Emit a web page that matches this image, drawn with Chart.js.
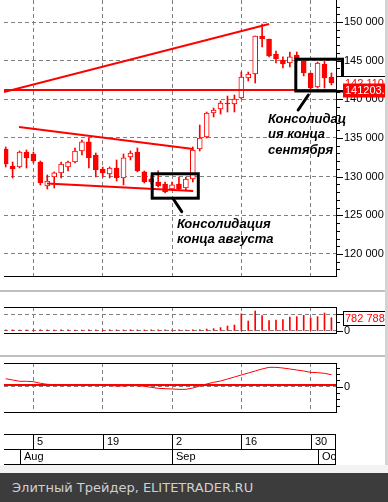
<!DOCTYPE html>
<html>
<head>
<meta charset="utf-8">
<script src="https://cdn.jsdelivr.net/npm/chart.js@4.4.1/dist/chart.umd.min.js"></script>
<style>
html, body { margin: 0; padding: 0; background: #fff; width: 388px; height: 502px; overflow: hidden; position: relative; }
canvas { position: absolute; left: 0; }
.strip { position: absolute; }
#footer { position: absolute; left: 0; top: 473px; width: 388px; height: 29px; box-sizing: border-box; padding-left: 12px;
  background: #3c3c3c; color: #d0d0d0; font: 13px "DejaVu Sans", sans-serif; line-height: 29px; }
</style>
</head>
<body>
<div class="strip" style="left:385px;top:0;width:3px;height:465px;background:#d4d4d4"></div>
<div class="strip" style="left:0;top:290px;width:385px;height:2px;background:#c0c0c0"></div>
<div class="strip" style="left:0;top:355px;width:385px;height:2px;background:#c0c0c0"></div>
<div class="strip" style="left:0;top:465px;width:388px;height:8px;background:#f2f2f2"></div>
<canvas id="main" width="388" height="280" style="top:0"></canvas>
<canvas id="vol" width="388" height="64" style="top:292px"></canvas>
<canvas id="osc" width="388" height="113" style="top:357px"></canvas>
<div id="footer">Элитный Трейдер, ELITETRADER.RU</div>
<script>
// trading days
const dates = ['2013-07-30','2013-07-31','2013-08-01','2013-08-02','2013-08-05','2013-08-06','2013-08-07','2013-08-08','2013-08-09',
  '2013-08-12','2013-08-13','2013-08-14','2013-08-15','2013-08-16','2013-08-19','2013-08-20','2013-08-21','2013-08-22','2013-08-23',
  '2013-08-26','2013-08-27','2013-08-28','2013-08-29','2013-08-30','2013-09-02','2013-09-03','2013-09-04','2013-09-05','2013-09-06',
  '2013-09-09','2013-09-10','2013-09-11','2013-09-12','2013-09-13','2013-09-16','2013-09-17','2013-09-18','2013-09-19','2013-09-20',
  '2013-09-23','2013-09-24','2013-09-25','2013-09-26','2013-09-27','2013-09-30','2013-10-01','2013-10-02','2013-10-03'];

const openP = [133580,131380,131250,133190,132930,131900,128800,129960,130480,131250,131900,133320,134490,132800,130990,130350,
  131120,129830,132550,133190,130610,129700,129310,129050,128410,129050,128540,129700,133580,135130,138230,138750,139530,139400,
  140170,142760,143280,148190,147800,145860,145090,144700,145730,144960,143410,141600,144570,142890];
const highP = [133840,131900,133320,133450,133190,132030,130220,130610,131900,132030,133710,134740,135000,133060,131250,131250,
  132160,132930,133320,133710,130740,130090,130740,129310,129310,129960,129960,133840,136680,138360,138880,139790,140430,140560,
  143530,143530,148190,149740,147800,146250,145480,146120,146120,145090,143410,144830,144960,143410];
const lowP = [131250,129830,131120,131120,131770,128930,128410,128540,129830,130740,131770,132800,131120,129960,129960,129830,
  129440,128930,132160,130610,129180,129050,128670,127890,128280,128280,128280,129310,133320,135000,137720,138100,138360,138360,
  140040,142370,142110,146770,145480,144700,144050,144180,144830,143020,141080,141470,141470,141860];
const closeP = [131640,130990,133190,132420,132030,129180,129440,130480,131640,131900,133320,134490,132420,130860,130480,131120,
  129830,132420,133060,130740,129310,129310,128800,128020,128930,128410,129700,133450,135000,138230,138620,139530,139400,140040,
  142890,143280,148190,147800,145600,145220,144570,145480,145220,143410,141470,144700,142760,142110];

const volume = [62000,71000,58000,66000,54000,69000,63000,57000,72000,65000,60000,58000,67000,61000,55000,70000,64000,59000,
  73000,66000,62000,71000,68000,75000,57000,64000,60000,69000,78000,118000,137000,196000,294000,353000,1010000,588000,1176000,
  902000,608000,647000,667000,824000,843000,922000,765000,843000,1059000,782788];

const oscValues = [1264,1058,853,853,790,537,379,320,280,260,250,260,280,250,220,180,120,120,180,160,60,-100,-260,-310,-360,
  -420,-420,-210,110,430,690,900,1216,1530,1850,2160,2480,2800,3060,3060,2950,2800,2640,2480,2270,2220,2110,1900];
const oscLevel = 270;

// trend lines: [day index, price]
const levelPrice = 141203;
const risingLine = [[-0.245, 140950], [38, 149742]];
const upperLine = [[1.92, 136424], [27.05, 133579]];
const supportLine = [[5.96, 129118], [27.05, 128148]];

// tick labels
const priceTicks = [120000, 125000, 130000, 135000, 140000, 145000, 150000];
const volumeTicks = [0, 500000, 1000000];
const oscTicks = [-3000, -2000, -1000, 0, 1000, 2000, 3000];
const dayTickDates = ['2013-08-05', '2013-08-19', '2013-09-02', '2013-09-16', '2013-09-30'];
const dayTickLabels = ['5', '19', '2', '16', '30'];
const monthStartDates = ['2013-08-01', '2013-09-02', '2013-10-01'];
const monthLabels = ['Aug', 'Sep', 'Oct'];

// annotations (day index / price)
const notes = [
  { box: [21.14, 27.79, 130373, 127218], pointer: [[24.19, 127114], [25.4, 125472]],
    at: [24.7, 123365], lines: ['Консолидация', 'конца августа'] },
  { box: [41.86, 48.6, 145190, 141079], pointer: [[43.67, 140562], [42.2, 138622]],
    at: [37.85, 136941], lines: ['Консолидац', 'ия конца', 'сентября'] }
];

Chart.defaults.font.family = '"Liberation Sans", Arial, sans-serif';
Chart.defaults.font.size = 11;
Chart.defaults.color = '#000';

const RED = '#ff0000';
const X_MIN = -0.245, X_MAX = 47.66;
const gridIdx = dayTickDates.map(d => dates.indexOf(d));
const monthIdx = monthStartDates.map(d => dates.indexOf(d));
const fmt = v => String(Math.round(v)).replace(/\B(?=(\d{3})+(?!\d))/g, ' ');
const pts = arr => arr.map(p => ({ x: p[0], y: p[1] }));

function xScale() {
  return {
    type: 'linear', min: X_MIN, max: X_MAX, offset: false, bounds: 'data',
    afterBuildTicks: s => { s.ticks = gridIdx.map(v => ({ value: v })); },
    ticks: { display: false },
    grid: { color: '#808080', drawTicks: false, offset: false },
    border: { display: false, dash: [4, 3] }
  };
}

function yScale(min, max, tickVals, labelFn, gridFn) {
  return {
    position: 'right', min: min, max: max, bounds: 'data',
    afterBuildTicks: s => { s.ticks = tickVals.map(v => ({ value: v })); },
    afterFit: s => { s.width = 52; s.paddingTop = 0; s.paddingBottom = 0; },
    ticks: { padding: 8, color: '#000', autoSkip: false, callback: labelFn },
    grid: { color: c => (c.tick && gridFn(c.tick.value)) ? '#808080' : 'rgba(0,0,0,0)', drawTicks: false },
    border: { display: false, dash: [4, 3] }
  };
}

// frame + axis ticks on the right
function drawFrame(chart, tickList, majorFn, withTop, withBottom) {
  const { ctx, chartArea: a, scales: { y } } = chart;
  ctx.save();
  ctx.strokeStyle = '#000';
  ctx.lineWidth = 1;
  ctx.beginPath();
  ctx.moveTo(a.right + 0.5, a.top);
  ctx.lineTo(a.right + 0.5, a.bottom);
  if (withTop) { ctx.moveTo(a.left, a.top + 0.5); ctx.lineTo(a.right + 1, a.top + 0.5); }
  if (withBottom) { ctx.moveTo(a.left, a.bottom - 0.5); ctx.lineTo(a.right + 1, a.bottom - 0.5); }
  tickList.forEach(v => {
    const py = Math.round(y.getPixelForValue(v)) + 0.5;
    if (py < a.top || py > a.bottom) return;
    ctx.moveTo(a.right, py);
    ctx.lineTo(a.right + (majorFn(v) ? 7 : 4), py);
  });
  ctx.stroke();
  ctx.restore();
}

function drawTag(ctx, yPix, left, right, text, fill, stroke, color) {
  ctx.save();
  ctx.beginPath();
  ctx.rect(0, 0, 385, 600);
  ctx.clip();
  const top = Math.round(yPix - 7) + 0.5;
  ctx.fillStyle = fill;
  ctx.fillRect(left, top, right - left, 14);
  if (stroke) { ctx.strokeStyle = stroke; ctx.strokeRect(left + 0.5, top, right - left, 14); }
  ctx.fillStyle = color;
  ctx.textBaseline = 'middle';
  ctx.font = '11px "Liberation Sans", Arial, sans-serif';
  ctx.fillText(text, 345, top + 7.5);
  ctx.restore();
}

const priceMinor = [];
for (let v = 118000; v <= 152000; v += 1000) priceMinor.push(v);

const mainDecor = {
  id: 'mainDecor',
  afterDatasetsDraw(chart) {
    const { ctx, scales: { x, y } } = chart;
    ctx.save();
    ctx.strokeStyle = '#000';
    ctx.fillStyle = '#000';
    ctx.lineWidth = 3;
    notes.forEach(n => {
      const l = x.getPixelForValue(n.box[0]), r = x.getPixelForValue(n.box[1]);
      const t = y.getPixelForValue(n.box[2]), b = y.getPixelForValue(n.box[3]);
      ctx.lineCap = 'butt';
      ctx.strokeRect(l, t, r - l, b - t);
      ctx.lineCap = 'round';
      ctx.beginPath();
      ctx.moveTo(x.getPixelForValue(n.pointer[0][0]), y.getPixelForValue(n.pointer[0][1]));
      ctx.lineTo(x.getPixelForValue(n.pointer[1][0]), y.getPixelForValue(n.pointer[1][1]));
      ctx.stroke();
      ctx.font = 'italic bold 13px "Liberation Sans", Arial, sans-serif';
      const tx = x.getPixelForValue(n.at[0]), ty = y.getPixelForValue(n.at[1]);
      n.lines.forEach((s, k) => ctx.fillText(s, tx, ty + k * 15.5));
    });
    ctx.restore();
  },
  afterDraw(chart) {
    const { ctx, scales: { y } } = chart;
    drawFrame(chart, priceMinor, v => v % 5000 === 0, false, true);
    drawTag(ctx, y.getPixelForValue(closeP[closeP.length - 1]), 336, 400, fmt(closeP[closeP.length - 1]), '#fff', '#000', RED);
    drawTag(ctx, y.getPixelForValue(levelPrice), 343, 400, levelPrice.toFixed(1), RED, null, '#fff');
  }
};

const bull = i => closeP[i] >= openP[i];

new Chart(document.getElementById('main'), {
  type: 'bar',
  data: {
    datasets: [
      { type: 'line', data: pts([[X_MIN, levelPrice], [X_MAX, levelPrice]]), borderColor: RED, borderWidth: 2, pointRadius: 0 },
      { type: 'line', data: pts(risingLine), borderColor: RED, borderWidth: 2, pointRadius: 0 },
      { type: 'line', data: pts(upperLine), borderColor: RED, borderWidth: 2, pointRadius: 0 },
      { type: 'line', data: pts(supportLine), borderColor: RED, borderWidth: 2, pointRadius: 0 },
      { data: dates.map((d, i) => ({ x: i, y: [openP[i], closeP[i]] })),
        backgroundColor: c => bull(c.dataIndex) ? '#ffffff' : RED,
        borderColor: RED, borderWidth: 1, borderSkipped: false, barThickness: 5, grouped: false },
      { data: dates.map((d, i) => ({ x: i, y: [lowP[i], highP[i]] })),
        backgroundColor: RED, borderWidth: 0, barThickness: 1, grouped: false }
    ]
  },
  options: {
    responsive: false, animation: false, events: [],
    layout: { padding: { left: 4, top: 0, right: 0, bottom: 3 } },
    plugins: { legend: { display: false }, tooltip: { enabled: false } },
    scales: {
      x: xScale(),
      y: yScale(117025, 152845, priceTicks, v => fmt(v), v => true)
    }
  },
  plugins: [mainDecor]
});

const volDecor = {
  id: 'volDecor',
  afterDraw(chart) {
    const { ctx, scales: { y } } = chart;
    drawFrame(chart, volumeTicks, v => v !== 500000, true, true);
    const last = volume[volume.length - 1];
    drawTag(ctx, y.getPixelForValue(last), 343, 385, fmt(last), '#fff', '#000', RED);
  }
};

new Chart(document.getElementById('vol'), {
  type: 'bar',
  data: {
    datasets: [
      { data: dates.map((d, i) => ({ x: i, y: volume[i] })), backgroundColor: RED, borderWidth: 0, barThickness: 1, grouped: false }
    ]
  },
  options: {
    responsive: false, animation: false, events: [],
    layout: { padding: { left: 4, top: 15, right: 0, bottom: 22 } },
    plugins: { legend: { display: false }, tooltip: { enabled: false } },
    scales: {
      x: xScale(),
      y: yScale(-176471, 1411765, volumeTicks, v => v === 0 ? '0' : '', v => v !== 500000)
    }
  },
  plugins: [volDecor]
});

const oscDecor = {
  id: 'oscDecor',
  afterDraw(chart) {
    const { ctx, chartArea: a, scales: { x } } = chart;
    drawFrame(chart, oscTicks, v => v === 0, true, true);
    // date axis
    const top = 77, mid = 92, bot = 107, L = a.left, R = a.right - 1;
    ctx.save();
    ctx.strokeStyle = '#000';
    ctx.lineWidth = 1;
    ctx.beginPath();
    [top, mid, bot].forEach(yy => { ctx.moveTo(L, yy + 0.5); ctx.lineTo(R + 1, yy + 0.5); });
    ctx.moveTo(R + 0.5, top); ctx.lineTo(R + 0.5, bot);
    gridIdx.forEach(g => { const px = Math.round(x.getPixelForValue(g)) + 0.5; ctx.moveTo(px, top); ctx.lineTo(px, mid); });
    monthIdx.forEach(m => { const px = Math.round(x.getPixelForValue(m)) + 0.5; ctx.moveTo(px, mid); ctx.lineTo(px, bot); });
    ctx.stroke();
    ctx.beginPath();
    ctx.rect(L, top, R - L, bot - top);
    ctx.clip();
    ctx.fillStyle = '#000';
    ctx.font = '11px "Liberation Sans", Arial, sans-serif';
    ctx.textBaseline = 'alphabetic';
    gridIdx.forEach((g, k) => ctx.fillText(dayTickLabels[k], Math.round(x.getPixelForValue(g)) + 4, top + 11));
    monthIdx.forEach((m, k) => ctx.fillText(monthLabels[k], Math.round(x.getPixelForValue(m)) + 4, mid + 11));
    ctx.restore();
  }
};

new Chart(document.getElementById('osc'), {
  type: 'line',
  data: {
    datasets: [
      { data: dates.map((d, i) => ({ x: i, y: oscValues[i] })), borderColor: RED, borderWidth: 1, pointRadius: 0, tension: 0 },
      { data: pts([[X_MIN, oscLevel], [X_MAX, oscLevel]]), borderColor: RED, borderWidth: 2, pointRadius: 0 }
    ]
  },
  options: {
    responsive: false, animation: false, events: [],
    layout: { padding: { left: 4, top: 6, right: 0, bottom: 57 } },
    plugins: { legend: { display: false }, tooltip: { enabled: false } },
    scales: {
      x: xScale(),
      y: yScale(-4155, 3744, oscTicks, v => v === 0 ? '0' : '', v => v === 0)
    }
  },
  plugins: [oscDecor]
});
</script>
</body>
</html>
